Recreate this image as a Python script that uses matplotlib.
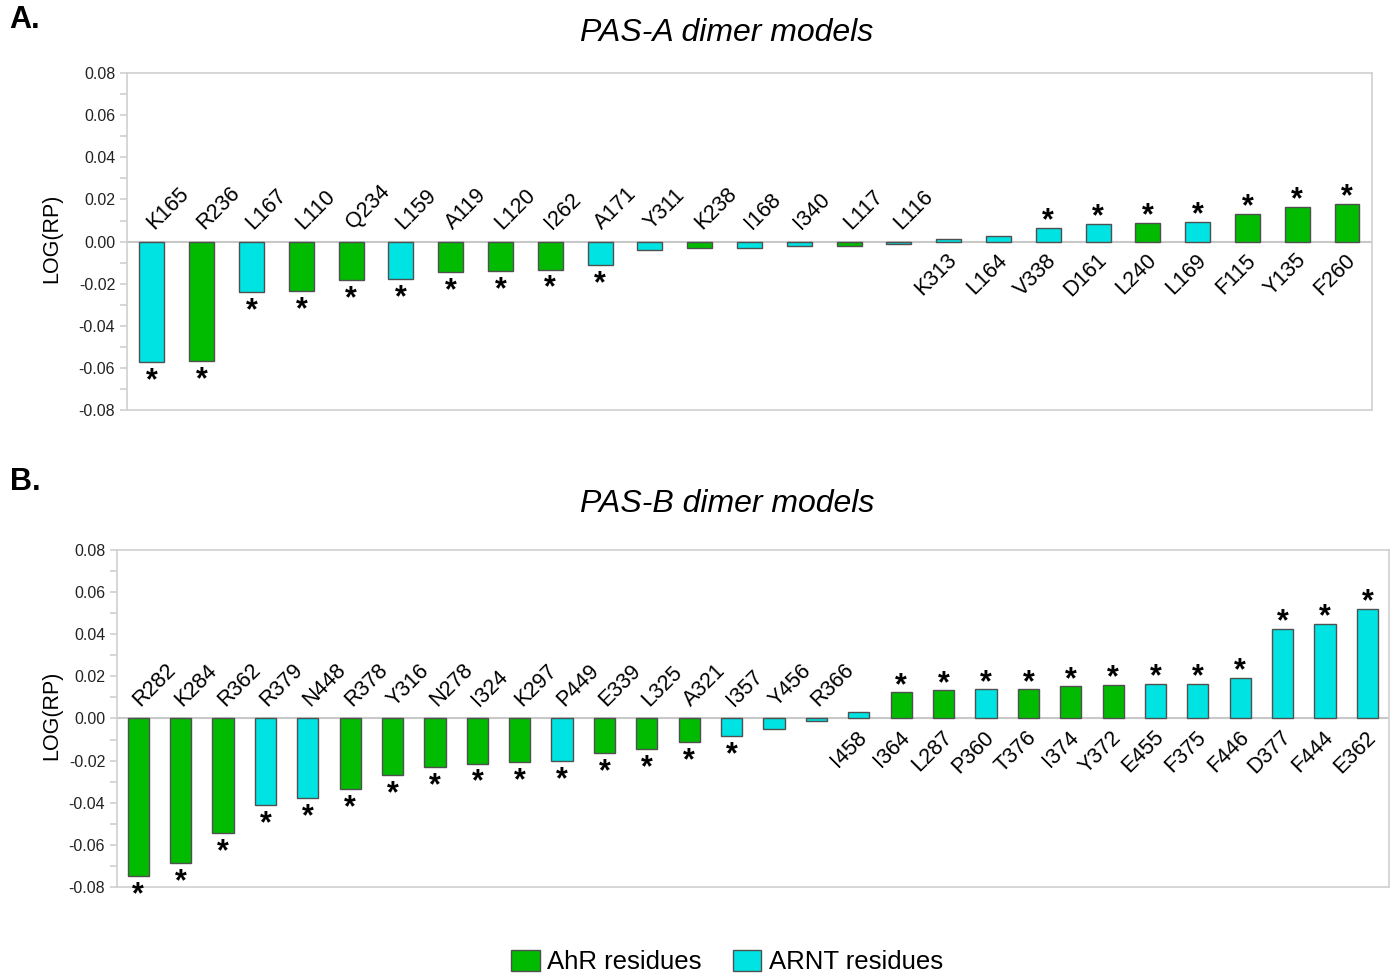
import matplotlib.pyplot as plt
from matplotlib.patches import Patch
from matplotlib.ticker import MultipleLocator

plt.rcParams['font.family'] = ['Liberation Sans', 'DejaVu Sans']

AHR_COLOR = "#00bb00"
ARNT_COLOR = "#00e3e3"
EDGE = "#505050"
FRAME = "#d0d0d0"

# PAS-A dimer models
pas_a_residues = ["K165", "R236", "L167", "L110", "Q234", "L159", "A119", "L120", "I262",
                  "A171", "Y311", "K238", "I168", "I340", "L117", "L116", "K313", "L164",
                  "V338", "D161", "L240", "L169", "F115", "Y135", "F260"]
pas_a_values = [-0.0571, -0.0568, -0.0241, -0.0235, -0.0182, -0.0179, -0.0144, -0.0138,
                -0.0133, -0.0110, -0.0040, -0.0030, -0.0030, -0.0022, -0.0020, -0.0010,
                0.0011, 0.0027, 0.0063, 0.0083, 0.0090, 0.0093, 0.0133, 0.0163, 0.0179]
pas_a_protein = ["ARNT", "AhR", "ARNT", "AhR", "AhR", "ARNT", "AhR", "AhR", "AhR",
                 "ARNT", "ARNT", "AhR", "ARNT", "ARNT", "AhR", "ARNT", "ARNT", "ARNT",
                 "ARNT", "ARNT", "AhR", "ARNT", "AhR", "AhR", "AhR"]
pas_a_signif = [True] * 10 + [False] * 8 + [True] * 7

# PAS-B dimer models
pas_b_residues = ["R282", "K284", "R362", "R379", "N448", "R378", "Y316", "N278", "I324",
                  "K297", "P449", "E339", "L325", "A321", "I357", "Y456", "R366", "I458",
                  "I364", "L287", "P360", "T376", "I374", "Y372", "E455", "F375", "F446",
                  "D377", "F444", "E362"]
pas_b_values = [-0.0749, -0.0686, -0.0546, -0.0409, -0.0377, -0.0334, -0.0269, -0.0231,
                -0.0214, -0.0206, -0.0203, -0.0163, -0.0147, -0.0111, -0.0084, -0.0052,
                -0.0014, 0.0032, 0.0124, 0.0133, 0.0138, 0.0138, 0.0152, 0.0158, 0.0166,
                0.0166, 0.0193, 0.0424, 0.0447, 0.0521]
pas_b_protein = ["AhR", "AhR", "AhR", "ARNT", "ARNT", "AhR", "AhR", "AhR", "AhR",
                 "AhR", "ARNT", "AhR", "AhR", "AhR", "ARNT", "ARNT", "ARNT", "ARNT",
                 "AhR", "AhR", "ARNT", "AhR", "AhR", "AhR", "ARNT", "ARNT", "ARNT",
                 "ARNT", "ARNT", "ARNT"]
pas_b_signif = [True] * 15 + [False] * 3 + [True] * 12


def draw_panel(ax, residues, values, protein, signif):
    colors = [AHR_COLOR if p == "AhR" else ARNT_COLOR for p in protein]
    x = list(range(len(residues)))
    ax.bar(x, values, width=0.5, color=colors, edgecolor=EDGE, linewidth=1, zorder=3)
    ax.axhline(0, color="#c8c8c8", linewidth=1.5, zorder=2)

    for i, (name, v, s) in enumerate(zip(residues, values, signif)):
        if v < 0:
            ax.annotate(name, (i, 0), xytext=(1.5, 8.5), textcoords="offset points",
                        rotation=45, rotation_mode="anchor", ha="left", va="baseline",
                        fontsize=15.5)
            if s:
                ax.annotate("*", (i, v), xytext=(0, -3), textcoords="offset points",
                            ha="center", va="top", fontsize=22, fontweight="bold")
        else:
            ax.annotate(name, (i, 0), xytext=(-1.5, -6), textcoords="offset points",
                        rotation=45, rotation_mode="anchor", ha="right", va="top",
                        fontsize=15.5)
            if s:
                ax.annotate("*", (i, v), xytext=(0, -1), textcoords="offset points",
                            ha="center", va="baseline", fontsize=22, fontweight="bold")

    ax.set_xlim(-0.5, len(residues) - 0.5)
    ax.set_ylim(-0.08, 0.08)
    ax.yaxis.set_major_locator(MultipleLocator(0.02))
    ax.yaxis.set_minor_locator(MultipleLocator(0.01))
    ax.yaxis.set_major_formatter(plt.FormatStrFormatter("%.2f"))
    ax.set_xticks([])
    ax.tick_params(axis="y", which="both", colors=FRAME, labelcolor="#222222",
                   labelsize=11.5, length=5, width=1.2)
    for sp in ax.spines.values():
        sp.set_color(FRAME)
        sp.set_linewidth(1.2)
    ax.set_ylabel("LOG(RP)", fontsize=15.5)


fig = plt.figure(figsize=(13.9, 9.76), dpi=100)
ax_a = fig.add_axes([0.0914, 0.580, 0.8956, 0.345])
ax_b = fig.add_axes([0.0842, 0.0912, 0.9148, 0.3453])

draw_panel(ax_a, pas_a_residues, pas_a_values, pas_a_protein, pas_a_signif)
draw_panel(ax_b, pas_b_residues, pas_b_values, pas_b_protein, pas_b_signif)

ax_a.yaxis.set_label_coords(-0.052, 0.51)
ax_b.yaxis.set_label_coords(-0.043, 0.51)

fig.text(0.523, 0.966, "PAS-A dimer models", fontsize=23, style="italic",
         ha="center", va="center")
fig.text(0.523, 0.484, "PAS-B dimer models", fontsize=23, style="italic",
         ha="center", va="center")

fig.text(0.007, 0.979, "A.", fontsize=22, fontweight="bold", va="center")
fig.text(0.007, 0.506, "B.", fontsize=22, fontweight="bold", va="center")

handles = [Patch(facecolor=AHR_COLOR, edgecolor=EDGE, label="AhR residues"),
           Patch(facecolor=ARNT_COLOR, edgecolor=EDGE, label="ARNT residues")]
fig.legend(handles=handles, loc="center", bbox_to_anchor=(0.523, 0.0143), ncol=2,
           frameon=False, fontsize=18.5, handlelength=1.1, handleheight=0.9,
           handletextpad=0.3, columnspacing=1.2)

fig.savefig("out.png", dpi=100)
